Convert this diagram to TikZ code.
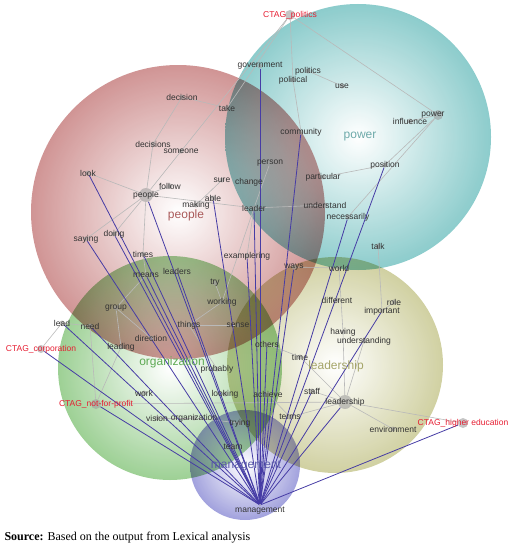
\documentclass[tikz,border=0pt]{standalone}
\usepackage{fontspec}
\setmainfont{Liberation Serif}
\newfontfamily\wordfont{Liberation Sans}
\definecolor{peopleC}{RGB}{200,130,130}
\definecolor{powerC}{RGB}{120,195,195}
\definecolor{orgC}{RGB}{140,200,130}
\definecolor{leadC}{RGB}{200,200,145}
\definecolor{mgmtC}{RGB}{145,145,215}
\definecolor{peopleT}{RGB}{170,90,90}
\definecolor{powerT}{RGB}{110,170,170}
\definecolor{orgT}{RGB}{95,170,85}
\definecolor{leadT}{RGB}{165,165,105}
\definecolor{mgmtT}{RGB}{90,90,170}
\definecolor{mgmtLine}{RGB}{70,60,165}
\definecolor{ctagRed}{RGB}{230,30,50}
\pgfdeclarelayer{bubbles}
\pgfdeclarelayer{edges}
\pgfsetlayers{bubbles,edges,main}
\begin{document}
\begin{tikzpicture}[x=1pt,y=-1pt,
    dot/.style={circle, fill=gray!75, fill opacity=0.6, inner sep=0pt, minimum size=5pt},
    hub/.style={dot, minimum size=14pt},
    lbl/.style={font=\wordfont\fontsize{8.5}{9}\selectfont, text=black!80, text opacity=1, inner sep=0pt},
    ctag/.style={lbl, text=ctagRed},
    edge/.style={draw=gray!55, line width=0.6pt},
    mgmt/.style={draw=mgmtLine, line width=0.8pt},
    title/.style={font=\wordfont\fontsize{12}{13}\selectfont},
    bubble/.style={inner color=white, fill opacity=0.85}]
  \useasboundingbox (0,0) rectangle (520,543);

  % concept bubbles
  \begin{pgfonlayer}{bubbles}
    \begin{scope}[blend mode=multiply]
      \shade[bubble, outer color=peopleC] (178,212) circle (147pt);
      \shade[bubble, outer color=powerC] (358,137) circle (133pt);
      \shade[bubble, outer color=orgC] (170,368) circle (112pt);
      \shade[bubble, outer color=leadC] (335,365) circle (108pt);
      \shade[bubble, outer color=mgmtC] (245,465) circle (55pt);
    \end{scope}
  \end{pgfonlayer}

  \node[title, text=peopleT] (peopletitle) at (186,215) {people};
  \node[title, text=powerT] (powertitle) at (360,137) {power};
  \node[title, text=orgT] (orgtitle) at (172,362) {organization};
  \node[title, text=leadT] (leadtitle) at (336,366) {leadership};
  \node[title, text=mgmtT] (mgmttitle) at (246,466) {management};

  % tag nodes
  \node[dot, minimum size=10pt, label={[ctag]center:CTAG\_politics}] (ctagpolitics) at (290,15) {};
  \node[dot, minimum size=8pt, label={[ctag]center:CTAG\_corporation}] (ctagcorp) at (41,349) {};
  \node[dot, minimum size=10pt, label={[ctag]center:CTAG\_not-for-profit}] (ctagnfp) at (96,404) {};
  \node[dot, minimum size=10pt, label={[ctag]center:CTAG\_higher education}] (ctaghigher) at (463,423) {};

  % words
  \node[dot, label={[lbl]center:government}] (government) at (260,66) {};
  \node[dot, label={[lbl]center:politics}] (politics) at (308,71) {};
  \node[dot, label={[lbl]center:political}] (political) at (293,80) {};
  \node[dot, label={[lbl]center:use}] (use) at (342,86) {};
  \node[dot, minimum size=10pt, label={[lbl, xshift=-5pt]center:power}] (power) at (438,115) {};
  \node[dot, label={[lbl]center:influence}] (influence) at (410,121) {};
  \node[dot, label={[lbl]center:community}] (community) at (301,132) {};
  \node[dot, label={[lbl]center:decision}] (decision) at (182,97) {};
  \node[dot, label={[lbl]center:take}] (take) at (227,108) {};
  \node[dot, label={[lbl]center:decisions}] (decisions) at (153,144) {};
  \node[dot, label={[lbl]center:someone}] (someone) at (181,151) {};
  \node[dot, label={[lbl]center:person}] (person) at (270,163) {};
  \node[dot, label={[lbl]center:position}] (position) at (385,165) {};
  \node[dot, label={[lbl]center:particular}] (particular) at (323,177) {};
  \node[dot, label={[lbl]center:look}] (look) at (88,173) {};
  \node[dot, label={[lbl]center:follow}] (follow) at (170,186) {};
  \node[hub, label={[lbl]center:people}] (people) at (146,195) {};
  \node[dot, label={[lbl]center:sure}] (sure) at (222,180) {};
  \node[dot, label={[lbl]center:change}] (change) at (249,182) {};
  \node[dot, label={[lbl]center:able}] (able) at (213,198) {};
  \node[dot, label={[lbl]center:making}] (making) at (196,205) {};
  \node[dot, label={[lbl]center:leader}] (leader) at (254,208) {};
  \node[dot, label={[lbl]center:understand}] (understand) at (325,205) {};
  \node[dot, label={[lbl]center:necessarily}] (necessarily) at (348,217) {};
  \node[dot, label={[lbl]center:saying}] (saying) at (86,239) {};
  \node[dot, label={[lbl]center:doing}] (doing) at (114,234) {};
  \node[dot, label={[lbl]center:talk}] (talk) at (378,246) {};
  \node[dot, label={[lbl]center:times}] (times) at (143,254) {};
  \node[dot, label={[lbl]center:examplering}] (exampl) at (247,256) {};
  \node[dot, label={[lbl]center:ways}] (ways) at (294,267) {};
  \node[dot, label={[lbl]center:world}] (world) at (339,268) {};
  \node[dot, label={[lbl]center:means}] (means) at (146,275) {};
  \node[dot, label={[lbl]center:leaders}] (leaders) at (177,271) {};
  \node[dot, label={[lbl]center:try}] (try) at (215,283) {};
  \node[dot, label={[lbl]center:different}] (different) at (337,300) {};
  \node[dot, label={[lbl]center:role}] (role) at (394,302) {};
  \node[dot, label={[lbl]center:important}] (important) at (382,311) {};
  \node[dot, label={[lbl]center:working}] (working) at (222,302) {};
  \node[dot, label={[lbl]center:group}] (group) at (116,308) {};
  \node[dot, label={[lbl]center:lead}] (lead) at (62,323) {};
  \node[dot, label={[lbl]center:need}] (need) at (90,326) {};
  \node[dot, label={[lbl]center:things}] (things) at (189,325) {};
  \node[dot, label={[lbl]center:sense}] (sense) at (238,325) {};
  \node[dot, label={[lbl]center:having}] (having) at (343,332) {};
  \node[dot, label={[lbl]center:understanding}] (understanding) at (364,341) {};
  \node[dot, label={[lbl]center:direction}] (direction) at (151,338) {};
  \node[dot, label={[lbl]center:leading}] (leading) at (121,347) {};
  \node[dot, label={[lbl]center:others}] (others) at (267,344) {};
  \node[dot, label={[lbl]center:time}] (time) at (300,357) {};
  \node[dot, label={[lbl]center:probably}] (probably) at (217,369) {};
  \node[dot, label={[lbl]center:work}] (work) at (144,393) {};
  \node[dot, label={[lbl]center:looking}] (looking) at (225,394) {};
  \node[dot, label={[lbl]center:achieve}] (achieve) at (268,394) {};
  \node[dot, label={[lbl]center:staff}] (staff) at (312,391) {};
  \node[hub, label={[lbl]center:leadership}] (leadership) at (345,402) {};
  \node[dot, label={[lbl]center:vision}] (vision) at (157,418) {};
  \node[dot, label={[lbl]center:organization}] (organization) at (194,418) {};
  \node[dot, label={[lbl]center:trying}] (trying) at (240,423) {};
  \node[dot, label={[lbl]center:terms}] (terms) at (290,417) {};
  \node[dot, label={[lbl]center:environment}] (environment) at (393,429) {};
  \node[dot, label={[lbl]center:team}] (team) at (233,447) {};
  \node[dot, minimum size=2pt, label={[lbl, yshift=-1pt]below:management}] (management) at (260,505) {};

  % links
  \begin{pgfonlayer}{edges}
    \foreach \a/\b in {ctagpolitics/political, political/community, ctagpolitics/power,
        ctagpolitics/take, ctagpolitics/people, politics/use, power/influence,
        power/position, power/necessarily, position/particular, decision/take,
        decision/decisions, decisions/people, people/look, people/follow,
        people/saying, people/doing, people/times, people/leader, person/leader,
        sure/making, leader/understand, leader/exampl, leader/working, world/ways,
        world/having, having/leadership, talk/important, role/important,
        understanding/leadership, leadership/time, leadership/staff,
        leadership/terms, leadership/environment, leadership/ctaghigher,
        ctagnfp/leadership, time/others, terms/achieve, things/sense,
        things/working, working/try, means/group, group/leading, group/direction,
        lead/need, lead/ctagcorp, need/ctagnfp, leading/ctagnfp, times/means,
        vision/organization, organization/trying, things/probably}
      \draw[edge] (\a) -- (\b);
    \foreach \b in {government, community, position, necessarily, important,
        leadership, ctaghigher, staff, ways, leader, able, exampl, people, look,
        saying, doing, times, leaders, lead, need, ctagcorp, ctagnfp, others,
        achieve, means}
      \draw[mgmt] (management) -- (\b);
  \end{pgfonlayer}

  \node[anchor=base west, font=\fontsize{12}{14}\selectfont] (source) at (1,540)
    {\textbf{Source:} Based on the output from Lexical analysis};
\end{tikzpicture}
\end{document}
